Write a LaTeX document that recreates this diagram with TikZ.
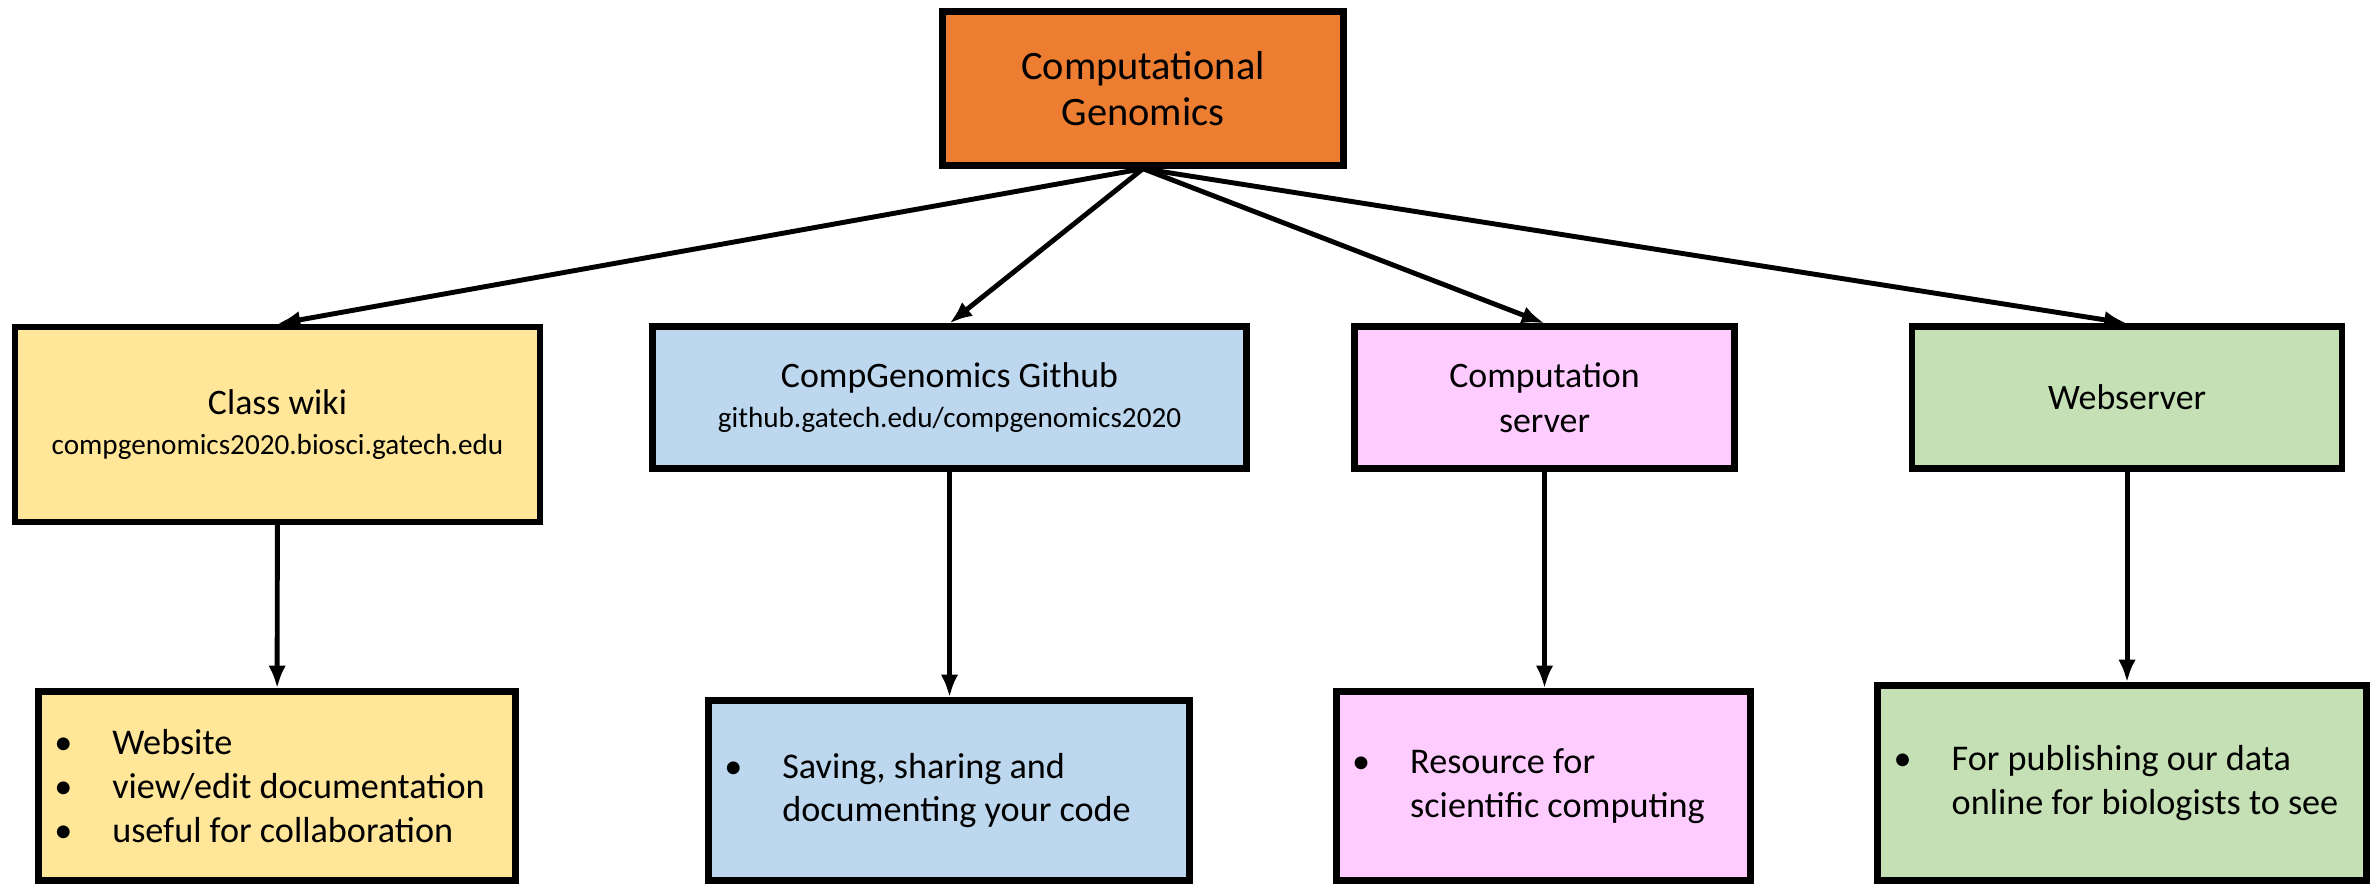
\documentclass[tikz,border=0pt]{standalone}
\usepackage{fontspec}
\setmainfont{Carlito}
\usetikzlibrary{positioning,arrows.meta}

\definecolor{genorange}{RGB}{237,125,49}
\definecolor{wikiyellow}{RGB}{255,230,153}
\definecolor{gitblue}{RGB}{189,215,238}
\definecolor{servpink}{RGB}{255,204,255}
\definecolor{webgreen}{RGB}{197,224,180}

\newcommand{\itm}{\makebox[0.58cm][l]{\textbullet}}
\newcommand{\subl}[1]{{\fontsize{8.3}{10}\selectfont #1}}

\begin{document}
\begin{tikzpicture}[>={Latex[length=6.5pt,width=5pt]},
    box/.style={draw=black,line width=1.8pt,align=center,inner sep=0pt,
        font=\fontsize{10.2}{12.8}\selectfont},
    lst/.style={draw=black,line width=1.8pt,align=left,inner sep=0pt,
        font=\fontsize{10.3}{12.4}\selectfont},
    link/.style={->,line width=1.4pt}]
    \useasboundingbox (0,0) rectangle (23.74,-8.85);
        \path
        % top
        +(11.43,-0.885) node[box,fill=genorange,minimum width=4.01cm,minimum height=1.54cm,
            font=\fontsize{11.5}{13.3}\selectfont] (cg) {Computational\\Genomics}
        % 2nd layer
        +(2.775,-4.245) node[box,fill=wikiyellow,minimum width=5.25cm,minimum height=1.95cm] (wiki)
            {Class wiki\\[-1.5pt]\subl{compgenomics2020.biosci.gatech.edu}}
        +(9.495,-3.975) node[box,fill=gitblue,minimum width=5.94cm,minimum height=1.42cm] (git)
            {CompGenomics Github\\[-1.5pt]\subl{github.gatech.edu/compgenomics2020}}
        +(15.445,-3.975) node[box,fill=servpink,minimum width=3.80cm,minimum height=1.42cm] (serv)
            {Computation\\server}
        +(21.27,-3.975) node[box,fill=webgreen,minimum width=4.30cm,minimum height=1.42cm] (web)
            {Webserver}
        % 3rd layer
        +(2.77,-7.86) node[lst,fill=wikiyellow,minimum width=4.77cm,minimum height=1.89cm] (wikiuse)
            {\itm Website\\\itm view/edit documentation\hspace*{0.15cm}\mbox{}\\\itm useful for collaboration}
        +(9.49,-7.905) node[lst,fill=gitblue,minimum width=4.81cm,minimum height=1.80cm] (gituse)
            {\itm Saving, sharing and\\\hspace*{0.58cm}documenting your code\hspace*{0.43cm}}
        +(15.435,-7.86) node[lst,fill=servpink,minimum width=4.14cm,minimum height=1.89cm] (servuse)
            {\itm Resource for\\\hspace*{0.58cm}scientific computing\hspace*{0.30cm}}
        +(21.22,-7.83) node[lst,fill=webgreen,minimum width=4.89cm,minimum height=1.95cm] (webuse)
            {\itm For publishing our data\\\hspace*{0.58cm}online for biologists to see\hspace*{0.12cm}};
        \draw[link] (cg.south)--(wiki.north);
        \draw[link] (cg.south)--(git.north);
        \draw[link] (cg.south)--(serv.north);
        \draw[link] (cg.south)--(web.north);
        \draw[link] (wiki)--(wikiuse);
        \draw[link] (git)--(git |- gituse.north);
        \draw[link] (serv)--(serv |- servuse.north);
        \draw[link] (web)--(web |- webuse.north);
    \end{tikzpicture}
\end{document}
